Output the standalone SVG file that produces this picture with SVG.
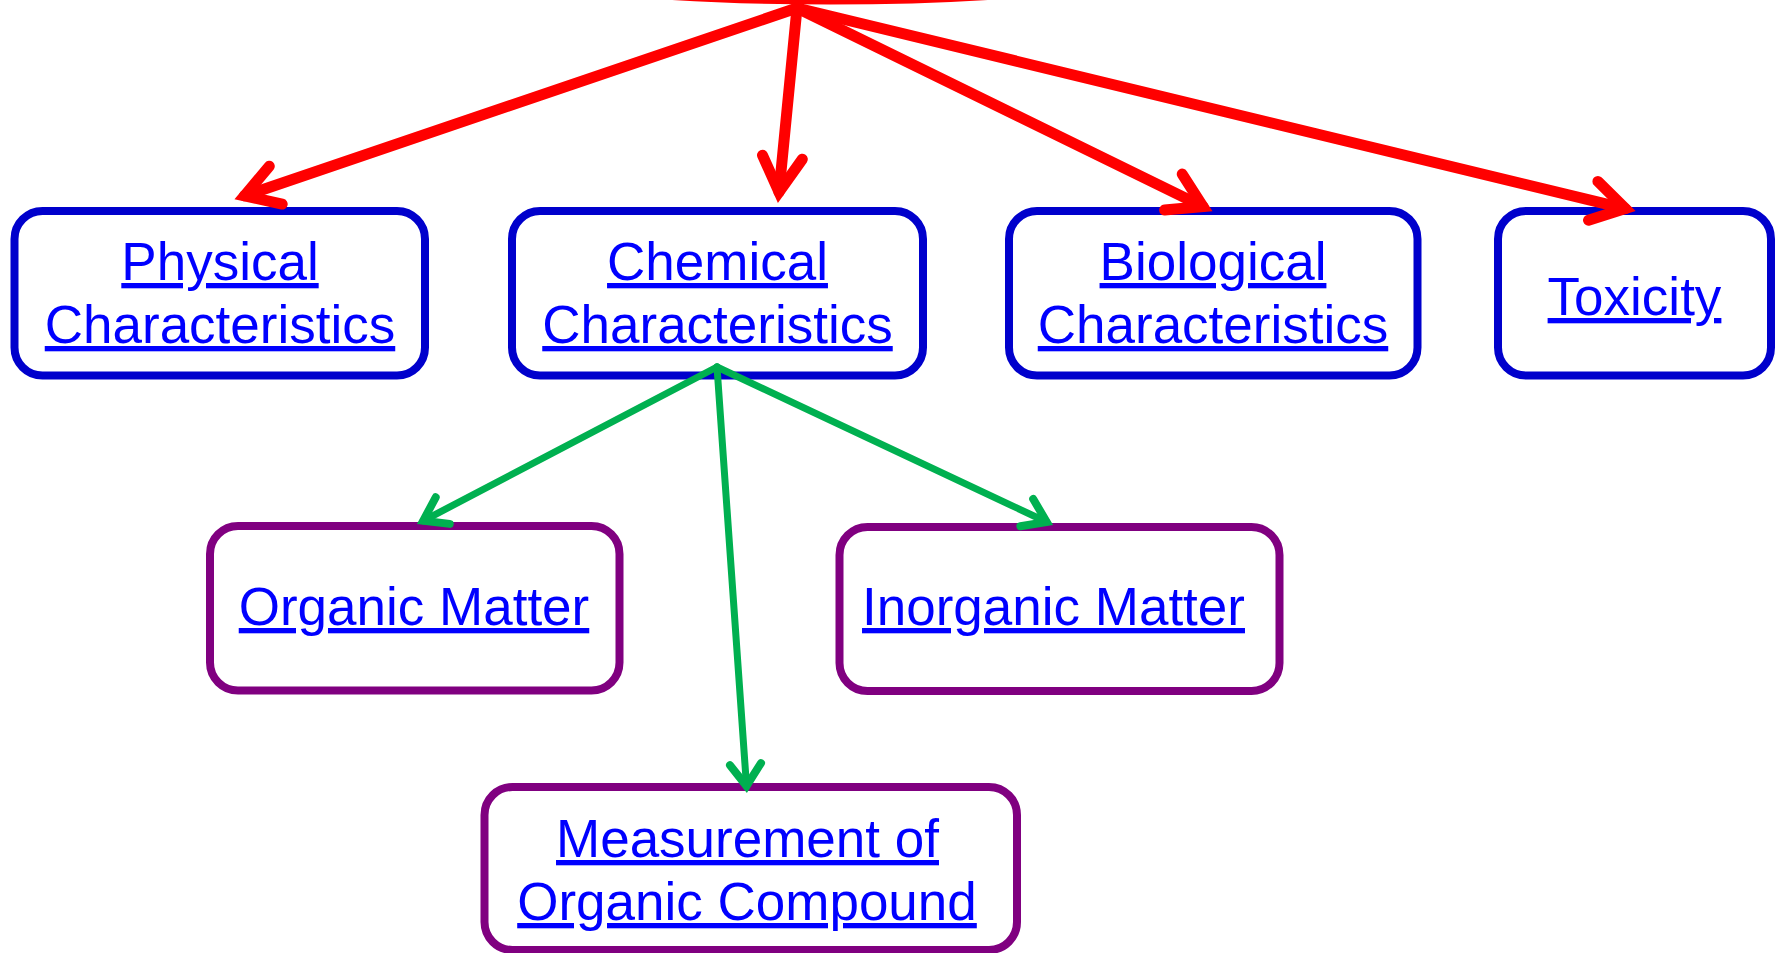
<svg xmlns="http://www.w3.org/2000/svg" width="1783" height="953" viewBox="0 0 1783 953">
  <defs>
    <radialGradient id="rootFill" cx="0.5" cy="1" r="0.6">
      <stop offset="0" stop-color="#ff9900"/>
      <stop offset="1" stop-color="#ff0000"/>
    </radialGradient>
    <style>
      .lvl1 { fill: #ffffff; stroke: #0000cc; stroke-width: 8; }
      .lvl2 { fill: #ffffff; stroke: #800080; stroke-width: 8; }
      .label { font-family: "Liberation Sans", Arial, sans-serif; font-size: 53px; fill: #0000ff; text-anchor: middle; text-decoration: underline; text-decoration-skip-ink: none; }
      .red { stroke: #ff0000; fill: none; stroke-linecap: round; }
      .red.shaft { stroke-width: 11; }
      .red.head { stroke-width: 11; stroke-linejoin: miter; stroke-miterlimit: 10; }
      .green { stroke: #00b050; fill: none; stroke-linecap: round; }
      .green.shaft { stroke-width: 7; }
      .green.head { stroke-width: 8; stroke-linejoin: miter; stroke-miterlimit: 10; }
    </style>
  </defs>
  <rect width="1783" height="953" fill="#ffffff"/>

  <!-- top-level node, mostly above the page edge -->
  <g id="root">
    <ellipse cx="830" cy="-55" rx="397" ry="57" fill="url(#rootFill)" stroke="#ff0000" stroke-width="5"/>
  </g>

  <g id="physical">
    <rect class="lvl1" x="14.5" y="211" width="410.5" height="164.5" rx="28"/>
    <text class="label" x="220" y="280">Physical</text>
    <text class="label" x="220" y="343">Characteristics</text>
  </g>

  <g id="chemical">
    <rect class="lvl1" x="512" y="211" width="411" height="164.5" rx="28"/>
    <text class="label" x="717.5" y="280">Chemical</text>
    <text class="label" x="717.5" y="343">Characteristics</text>
  </g>

  <g id="biological">
    <rect class="lvl1" x="1009" y="211" width="408.5" height="164.5" rx="28"/>
    <text class="label" x="1213" y="280">Biological</text>
    <text class="label" x="1213" y="343">Characteristics</text>
  </g>

  <g id="toxicity">
    <rect class="lvl1" x="1498" y="211" width="273" height="164.5" rx="28"/>
    <text class="label" x="1634.5" y="315">Toxicity</text>
  </g>

  <g id="organic-matter">
    <rect class="lvl2" x="210" y="526" width="409.5" height="164.5" rx="28"/>
    <text class="label" x="414" y="625">Organic Matter</text>
  </g>

  <g id="inorganic-matter">
    <rect class="lvl2" x="839.5" y="527" width="440" height="164" rx="28"/>
    <text class="label" x="1053.5" y="625">Inorganic Matter</text>
  </g>

  <g id="organic-compound">
    <rect class="lvl2" x="484.5" y="787" width="532.5" height="163" rx="28"/>
    <text class="label" x="747.5" y="857">Measurement of</text>
    <text class="label" x="747" y="920">Organic Compound</text>
  </g>

  <g id="connectors">
    <!-- root to characteristics -->
    <line class="red shaft" x1="797" y1="8" x2="244.5" y2="195.8"/>
    <polyline class="red head" points="269.3,166.2 244.5,195.8 282.2,204.1"/>

    <line class="red shaft" x1="797" y1="8" x2="779" y2="192"/>
    <polyline class="red head" points="762.5,155.2 779,192 802.3,159.2"/>

    <line class="red shaft" x1="797" y1="8" x2="1203" y2="206.6"/>
    <polyline class="red head" points="1182.2,174.1 1203,206.6 1164.6,210.1"/>

    <line class="red shaft" x1="797" y1="8" x2="1625.3" y2="208.6"/>
    <polyline class="red head" points="1597.9,181.4 1625.3,208.6 1588.5,220.2"/>

    <!-- chemical to sub-topics -->
    <line class="green shaft" x1="717" y1="367" x2="423.2" y2="520.8"/>
    <polyline class="green head" points="435.7,497.3 423.2,520.8 449.7,523.9"/>

    <line class="green shaft" x1="717" y1="367" x2="1046.7" y2="522"/>
    <polyline class="green head" points="1033.2,499 1046.7,522 1020.4,526.2"/>

    <line class="green shaft" x1="717" y1="367" x2="746.5" y2="786"/>
    <polyline class="green head" points="730,765.2 746.5,786 761,763.1"/>
  </g>
</svg>
